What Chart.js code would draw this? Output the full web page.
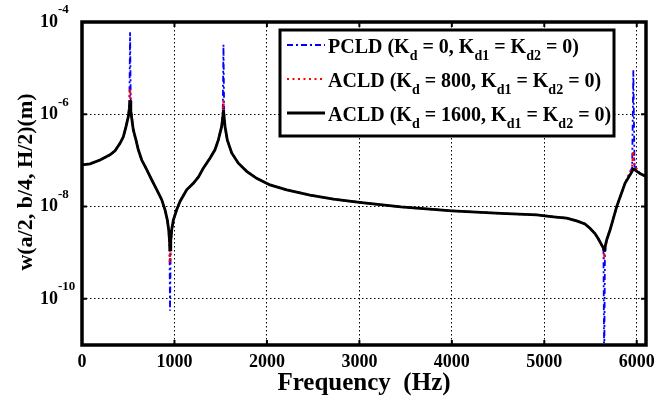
<!DOCTYPE html>
<html>
<head>
<meta charset="utf-8">
<script src="https://cdn.jsdelivr.net/npm/chart.js@4.4.0/dist/chart.umd.min.js"></script>
<style>
  html, body { margin: 0; padding: 0; background: #fff; }
  #wrap { width: 672px; height: 403px; }
</style>
</head>
<body>
<div id="wrap"><canvas id="frfChart" width="672" height="403"></canvas></div>
<script>
// Frequency axis (Hz), shared by all three curves
const freq = [0, 87, 195, 303, 357, 411, 447, 476, 501, 512,
              520, 528, 555, 584, 609, 646, 700, 754, 808, 862,
              898, 923, 938, 946, 952, 960, 970, 988, 1024, 1060,
              1132, 1204, 1260, 1312, 1384, 1438, 1474, 1510, 1522, 1530,
              1538, 1547, 1572, 1619, 1691, 1781, 1889, 2033, 2214, 2466,
              2720, 3000, 3450, 4000, 4530, 4918, 5098, 5242, 5350, 5440,
              5494, 5548, 5584, 5620, 5640, 5648, 5656, 5675, 5711, 5783,
              5873, 5950, 5963, 5976, 6035, 6100];

// PCLD (Kd = 0)
const pcld = [8.0e-8, 8.4e-8, 1.02e-7, 1.32e-7, 1.62e-7, 2.34e-7, 3.24e-7, 5.4e-7, 8.9e-7, 1.6e-6,
              6.0e-5, 1.35e-6, 4.6e-7, 2.75e-7, 1.7e-7, 1.02e-7, 6.3e-8, 3.8e-8, 2.34e-8, 1.41e-8,
              8.5e-9, 5.1e-9, 3.1e-9, 1.6e-9, 5.5e-11, 1.5e-9, 3.1e-9, 5.1e-9, 8.5e-9, 1.29e-8,
              2.3e-8, 3.2e-8, 4.4e-8, 6.8e-8, 1.12e-7, 1.7e-7, 2.75e-7, 5.4e-7, 9.5e-7, 3.2e-5,
              9.5e-7, 5.4e-7, 2.75e-7, 1.45e-7, 8.7e-8, 5.8e-8, 4.1e-8, 2.95e-8, 2.3e-8, 1.78e-8,
              1.45e-8, 1.23e-8, 9.8e-9, 8.1e-9, 7.1e-9, 6.6e-9, 6.0e-9, 5.6e-9, 4.9e-9, 4.2e-9,
              3.4e-9, 2.6e-9, 2.0e-9, 1.48e-9, 1.1e-9, 3.0e-12, 1.1e-9, 1.9e-9, 3.1e-9, 1.0e-8,
              3.2e-8, 7.0e-8, 9.0e-6, 7.5e-8, 5.2e-8, 4.5e-8];

// ACLD (Kd = 800)
const acld800 = [8.0e-8, 8.4e-8, 1.02e-7, 1.32e-7, 1.62e-7, 2.34e-7, 3.24e-7, 5.4e-7, 8.9e-7, 1.6e-6,
                 3.6e-6, 1.35e-6, 4.6e-7, 2.75e-7, 1.7e-7, 1.02e-7, 6.3e-8, 3.8e-8, 2.34e-8, 1.41e-8,
                 8.5e-9, 5.1e-9, 3.1e-9, 1.6e-9, 6.0e-10, 1.5e-9, 3.1e-9, 5.1e-9, 8.5e-9, 1.29e-8,
                 2.3e-8, 3.2e-8, 4.4e-8, 6.8e-8, 1.12e-7, 1.7e-7, 2.75e-7, 5.4e-7, 9.5e-7, 2.0e-6,
                 9.5e-7, 5.4e-7, 2.75e-7, 1.45e-7, 8.7e-8, 5.8e-8, 4.1e-8, 2.95e-8, 2.3e-8, 1.78e-8,
                 1.45e-8, 1.23e-8, 9.8e-9, 8.1e-9, 7.1e-9, 6.6e-9, 6.0e-9, 5.6e-9, 4.9e-9, 4.2e-9,
                 3.4e-9, 2.6e-9, 2.0e-9, 1.48e-9, 1.1e-9, 9.0e-10, 1.1e-9, 1.9e-9, 3.1e-9, 1.0e-8,
                 3.2e-8, 7.0e-8, 1.6e-7, 7.5e-8, 5.2e-8, 4.5e-8];

// ACLD (Kd = 1600)
const acld1600 = [8.0e-8, 8.4e-8, 1.02e-7, 1.32e-7, 1.62e-7, 2.34e-7, 3.24e-7, 5.4e-7, 8.9e-7, 1.32e-6,
                  2.0e-6, 1.12e-6, 4.6e-7, 2.75e-7, 1.7e-7, 1.02e-7, 6.3e-8, 3.8e-8, 2.34e-8, 1.41e-8,
                  8.5e-9, 5.1e-9, 3.1e-9, 1.9e-9, 1.15e-9, 1.8e-9, 3.1e-9, 5.1e-9, 8.5e-9, 1.29e-8,
                  2.3e-8, 3.2e-8, 4.4e-8, 6.8e-8, 1.12e-7, 1.7e-7, 2.75e-7, 5.4e-7, 8.3e-7, 1.23e-6,
                  8.3e-7, 5.4e-7, 2.75e-7, 1.45e-7, 8.7e-8, 5.8e-8, 4.1e-8, 2.95e-8, 2.3e-8, 1.78e-8,
                  1.45e-8, 1.23e-8, 9.8e-9, 8.1e-9, 7.1e-9, 6.6e-9, 6.0e-9, 5.6e-9, 4.9e-9, 4.2e-9,
                  3.4e-9, 2.6e-9, 2.0e-9, 1.48e-9, 1.26e-9, 1.15e-9, 1.32e-9, 1.9e-9, 3.1e-9, 1.0e-8,
                  3.2e-8, 5.8e-8, 6.5e-8, 6.3e-8, 5.2e-8, 4.5e-8];

// Ticks
const xTicks = [0, 1000, 2000, 3000, 4000, 5000, 6000];
const xTickLabels = ['0', '1000', '2000', '3000', '4000', '5000', '6000'];
const yTicks = [1e-10, 1e-8, 1e-6, 1e-4];
const yTickExp = ['-10', '-8', '-6', '-4'];

const seriesLabels = [
    'PCLD (K_{d} = 0, K_{d1} = K_{d2} = 0)',
    'ACLD (K_{d} = 800, K_{d1} = K_{d2} = 0)',
    'ACLD (K_{d} = 1600, K_{d1} = K_{d2} = 0)'
];

const FONT = "'Liberation Serif', 'Times New Roman', serif";

function toPoints(ys) {
    return freq.map(function(f, i) { return { x: f, y: ys[i] }; });
}

// draw text where _{...} is a subscript
function drawRich(ctx, label, x, y, size, subSize) {
    const parts = label.split(/(_\{[^}]*\})/);
    parts.forEach(function(p) {
        if (!p) return;
        let sub = false;
        if (p.indexOf('_{') === 0) { sub = true; p = p.slice(2, -1); }
        ctx.font = 'bold ' + (sub ? subSize : size) + 'px ' + FONT;
        ctx.fillText(p, x, sub ? y + 7 : y);
        x += ctx.measureText(p).width;
    });
}

const decor = {
    id: 'decor',
    afterDraw: function(chart) {
        const ctx = chart.ctx;
        const area = chart.chartArea;
        const xs = chart.scales.x, ys = chart.scales.y;
        ctx.save();

        // inner tick marks
        ctx.strokeStyle = '#000';
        ctx.lineWidth = 2;
        xTicks.forEach(function(v) {
            const px = xs.getPixelForValue(v);
            ctx.beginPath();
            ctx.moveTo(px, area.bottom); ctx.lineTo(px, area.bottom - 5);
            ctx.moveTo(px, area.top); ctx.lineTo(px, area.top + 5);
            ctx.stroke();
        });
        yTicks.forEach(function(v) {
            const py = ys.getPixelForValue(v);
            ctx.beginPath();
            ctx.moveTo(area.left, py); ctx.lineTo(area.left + 5, py);
            ctx.moveTo(area.right, py); ctx.lineTo(area.right - 5, py);
            ctx.stroke();
        });

        // frame
        ctx.lineWidth = 3.5;
        ctx.strokeRect(area.left, area.top, area.right - area.left, area.bottom - area.top);

        // tick labels
        ctx.fillStyle = '#000';
        ctx.font = 'bold 18px ' + FONT;
        ctx.textAlign = 'center';
        ctx.textBaseline = 'middle';
        xTicks.forEach(function(v, i) {
            ctx.fillText(xTickLabels[i], xs.getPixelForValue(v), 362);
        });
        ctx.textAlign = 'left';
        yTicks.forEach(function(v, i) {
            const py = ys.getPixelForValue(v);
            ctx.font = 'bold 18px ' + FONT;
            ctx.fillText('10', 40, py);
            const w = ctx.measureText('10').width;
            ctx.font = 'bold 13px ' + FONT;
            ctx.fillText(yTickExp[i], 40 + w, py - 12);
        });

        // axis titles
        ctx.textAlign = 'center';
        ctx.font = 'bold 25px ' + FONT;
        ctx.fillText('Frequency  (Hz)', (area.left + area.right) / 2, 384);
        ctx.save();
        ctx.translate(26, 182);
        ctx.rotate(-Math.PI / 2);
        ctx.font = 'bold 22px ' + FONT;
        ctx.fillText('w(a/2, b/4, H/2)(m)', 0, 0);
        ctx.restore();

        // legend box
        const bx = 280, by = 30, bw = 334, bh = 106;
        ctx.fillStyle = '#fff';
        ctx.fillRect(bx, by, bw, bh);
        ctx.strokeStyle = '#000';
        ctx.lineWidth = 3;
        ctx.strokeRect(bx, by, bw, bh);
        const rows = [53, 87, 121];
        chart.data.datasets.forEach(function(ds, i) {
            const y = rows[i];
            ctx.save();
            ctx.strokeStyle = ds.borderColor;
            ctx.lineWidth = ds.borderWidth;
            ctx.setLineDash(ds.borderDash || []);
            ctx.beginPath();
            ctx.moveTo(287, y - 8); ctx.lineTo(325, y - 8);
            ctx.stroke();
            ctx.restore();
            ctx.fillStyle = '#000';
            ctx.textAlign = 'left';
            ctx.textBaseline = 'alphabetic';
            drawRich(ctx, ds.label, 328, y, 20, 14);
        });
        ctx.restore();
    }
};

const ctxFrf = document.getElementById('frfChart').getContext('2d');
const frfChart = new Chart(ctxFrf, {
    type: 'line',
    data: {
        datasets: [{
            label: seriesLabels[0],
            data: toPoints(pcld),
            borderColor: '#0000ff',
            borderWidth: 1.8,
            borderDash: [6, 3, 2, 3],
            order: 3
        }, {
            label: seriesLabels[1],
            data: toPoints(acld800),
            borderColor: '#ff0000',
            borderWidth: 2.2,
            borderDash: [2, 3.5],
            order: 2
        }, {
            label: seriesLabels[2],
            data: toPoints(acld1600),
            borderColor: '#000000',
            borderWidth: 2.8,
            order: 1
        }]
    },
    options: {
        responsive: false,
        animation: false,
        events: [],
        layout: { padding: { top: 22, right: 26, left: 0, bottom: 0 } },
        elements: {
            point: { radius: 0 },
            line: { tension: 0, fill: false }
        },
        scales: {
            x: {
                type: 'linear',
                min: 0,
                max: 6100,
                afterBuildTicks: function(scale) { scale.ticks = xTicks.map(function(v) { return { value: v }; }); },
                afterFit: function(scale) { scale.height = 58; },
                ticks: { display: false },
                grid: { color: '#000', lineWidth: 1, drawTicks: false },
                border: { display: false, dash: [1.5, 2.5] }
            },
            y: {
                type: 'logarithmic',
                min: 1e-11,
                max: 1e-4,
                afterBuildTicks: function(scale) { scale.ticks = yTicks.map(function(v) { return { value: v }; }); },
                afterFit: function(scale) { scale.width = 82; },
                ticks: { display: false },
                grid: { color: '#000', lineWidth: 1, drawTicks: false },
                border: { display: false, dash: [1.5, 2.5] }
            }
        },
        plugins: {
            legend: { display: false },
            tooltip: { enabled: false }
        }
    },
    plugins: [decor]
});
</script>
</body>
</html>
